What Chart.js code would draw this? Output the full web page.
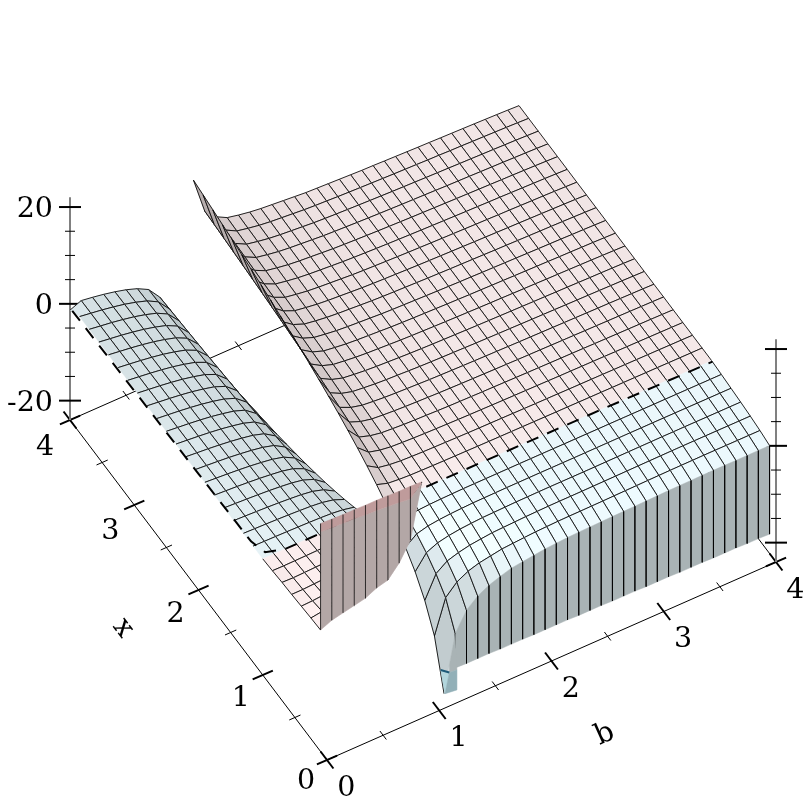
<!DOCTYPE html>
<html>
<head>
<meta charset="utf-8">
<style>
  html, body { margin: 0; padding: 0; background: #fff; }
  canvas { display: block; }
</style>
<script src="https://cdn.jsdelivr.net/npm/chart.js@4"></script>
</head>
<body>
<canvas id="chart" width="812" height="812"></canvas>
<script>
// sample positions of the surface, b = 1.0 is the pole so it has no value
const bValues = [0,0.1,0.2,0.3,0.4,0.5,0.6,0.7,0.8,0.9,1,1.1,1.2,1.3,1.4,1.5,1.6,1.7,1.8,1.9,2,2.1,2.2,2.3,2.4,2.5,2.6,2.7,2.8,2.9,3,3.1,3.2,3.3,3.4,3.5,3.6,3.7,3.8,3.9,4];
const xValues = [0.1,0.25,0.4,0.55,0.7,0.85,1,1.15,1.3,1.45,1.6,1.75,1.9,2.05,2.2,2.35,2.5,2.65,2.8,2.95,3.1,3.25,3.4,3.55,3.7,3.85,4];

// z, one row per x
const zRow01 = [1.1,2.1,2.6,3.1,3.6,4.7,5.3,7.8,11.5,22.3,null,-23.3,-11.9,-8.1,-6.2,-5,-4.2,-3.5,-3.2,-2.9,-2.6,-2.45,-2.3,-2.2,-2.15,-2.1,-2.05,-2,-1.95,-1.9,-1.85,-1.8,-1.77,-1.74,-1.72,-1.7,-1.7,-1.7,-1.7,-1.7,-1.7];
const zRow02 = [0.95,1.28,1.58,1.89,2.2,2.87,3.24,4.76,7,13.6,null,-14,-7.1,-4.9,-3.7,-3,-2.6,-2.2,-2.03,-1.87,-1.73,-1.65,-1.58,-1.54,-1.53,-1.5,-1.48,-1.44,-1.4,-1.37,-1.33,-1.3,-1.27,-1.25,-1.24,-1.22,-1.22,-1.22,-1.22,-1.22,-1.22];
const zRow03 = [0.75,0.84,1.04,1.24,1.44,1.88,2.12,3.12,4.6,8.9,null,-9.3,-4.8,-3.2,-2.5,-2,-1.72,-1.47,-1.38,-1.29,-1.2,-1.15,-1.1,-1.08,-1.08,-1.07,-1.05,-1.03,-1.01,-0.99,-0.96,-0.94,-0.92,-0.9,-0.89,-0.88,-0.88,-0.88,-0.88,-0.88,-0.88];
const zRow04 = [0.55,0.55,0.68,0.8,0.93,1.22,1.38,2.03,3,5.8,null,-6,-3.1,-2.1,-1.61,-1.3,-1.12,-0.97,-0.92,-0.86,-0.8,-0.78,-0.75,-0.74,-0.74,-0.74,-0.74,-0.73,-0.71,-0.69,-0.67,-0.66,-0.65,-0.63,-0.63,-0.62,-0.62,-0.62,-0.62,-0.62,-0.62];
const zRow05 = [0.4,0.33,0.4,0.48,0.56,0.73,0.82,1.21,1.78,3.46,null,-3.6,-1.85,-1.25,-0.96,-0.78,-0.67,-0.58,-0.55,-0.52,-0.49,-0.48,-0.47,-0.46,-0.46,-0.46,-0.46,-0.45,-0.44,-0.43,-0.42,-0.41,-0.41,-0.4,-0.4,-0.4,-0.4,-0.4,-0.4,-0.4,-0.4];
const zRow06 = [0.18,0.15,0.18,0.22,0.26,0.34,0.37,0.56,0.82,1.6,null,-1.66,-0.85,-0.58,-0.44,-0.36,-0.31,-0.26,-0.25,-0.24,-0.23,-0.22,-0.21,-0.21,-0.21,-0.21,-0.21,-0.2,-0.2,-0.2,-0.19,-0.19,-0.19,-0.19,-0.19,-0.18,-0.18,-0.18,-0.18,-0.18,-0.18];
const zRow07 = [0,0,0,0,0,0,0,0,0,0,null,0,0,0,0,0,0,0,0,0,0,0,0,0,0,0,0,0,0,0,0,0,0,0,0,0,0,0,0,0,0];
const zRow08 = [0,-0.04,-0.07,-0.11,-0.16,-0.22,-0.3,-0.43,-0.69,-1.18,null,1.44,0.7,0.48,0.35,0.3,0.26,0.23,0.21,0.19,0.17,0.15,0.14,0.13,0.12,0.11,0.1,0.09,0.09,0.08,0.07,0.07,0.06,0.05,0.05,0.04,0.04,0.03,0.02,0.01,0.01];
const zRow09 = [0,-0.07,-0.13,-0.21,-0.3,-0.42,-0.56,-0.8,-1.28,-2.2,null,2.7,1.31,0.89,0.66,0.56,0.48,0.43,0.39,0.35,0.31,0.29,0.27,0.25,0.23,0.21,0.19,0.18,0.17,0.15,0.14,0.13,0.12,0.1,0.09,0.08,0.07,0.06,0.04,0.03,0.01];
const zRow10 = [0,-0.09,-0.19,-0.3,-0.43,-0.6,-0.8,-1.13,-1.82,-3.11,null,3.83,1.86,1.26,0.93,0.8,0.69,0.61,0.55,0.5,0.45,0.41,0.38,0.35,0.32,0.3,0.28,0.26,0.24,0.21,0.2,0.18,0.17,0.15,0.13,0.11,0.1,0.08,0.06,0.04,0.01];
const zRow11 = [0,-0.12,-0.24,-0.38,-0.54,-0.75,-1.01,-1.43,-2.3,-3.95,null,4.84,2.35,1.6,1.18,1.01,0.87,0.78,0.71,0.63,0.56,0.52,0.48,0.44,0.41,0.38,0.35,0.32,0.3,0.27,0.25,0.23,0.21,0.18,0.16,0.14,0.12,0.1,0.08,0.05,0.01];
const zRow12 = [0,-0.14,-0.28,-0.45,-0.65,-0.9,-1.2,-1.71,-2.74,-4.7,null,5.77,2.8,1.9,1.4,1.2,1.04,0.92,0.84,0.76,0.68,0.62,0.57,0.53,0.49,0.45,0.42,0.38,0.35,0.33,0.3,0.27,0.25,0.22,0.2,0.17,0.15,0.12,0.09,0.06,0.02];
const zRow13 = [0,-0.16,-0.32,-0.51,-0.74,-1.03,-1.38,-1.96,-3.15,-5.39,null,6.61,3.21,2.18,1.61,1.38,1.19,1.06,0.96,0.87,0.77,0.71,0.65,0.6,0.56,0.51,0.48,0.44,0.4,0.37,0.34,0.31,0.28,0.25,0.22,0.19,0.17,0.13,0.1,0.06,0.02];
const zRow14 = [0,-0.18,-0.36,-0.57,-0.83,-1.15,-1.55,-2.19,-3.52,-6.03,null,7.39,3.59,2.44,1.8,1.55,1.33,1.18,1.08,0.97,0.86,0.79,0.73,0.68,0.63,0.57,0.53,0.49,0.46,0.42,0.38,0.35,0.32,0.28,0.25,0.22,0.19,0.15,0.12,0.07,0.02];
const zRow15 = [0,-0.2,-0.39,-0.63,-0.91,-1.26,-1.69,-2.4,-3.86,-6.62,null,8.12,3.94,2.68,1.97,1.69,1.46,1.3,1.18,1.06,0.95,0.87,0.8,0.74,0.69,0.63,0.58,0.54,0.5,0.46,0.42,0.38,0.35,0.31,0.28,0.24,0.2,0.17,0.13,0.08,0.02];
const zRow16 = [0,-0.21,-0.43,-0.68,-0.98,-1.37,-1.84,-2.6,-4.18,-7.18,null,8.8,4.27,2.9,2.13,1.84,1.58,1.4,1.28,1.15,1.03,0.94,0.87,0.8,0.74,0.68,0.63,0.58,0.54,0.5,0.45,0.41,0.38,0.33,0.3,0.26,0.22,0.18,0.13,0.08,0.02];
const zRow17 = [0,-0.23,-0.46,-0.73,-1.05,-1.47,-1.97,-2.79,-4.49,-7.69,null,9.43,4.58,3.11,2.29,1.97,1.69,1.51,1.37,1.24,1.1,1.01,0.93,0.86,0.8,0.73,0.68,0.62,0.58,0.53,0.49,0.44,0.4,0.36,0.32,0.27,0.24,0.19,0.15,0.09,0.03];
const zRow18 = [0,-0.24,-0.49,-0.78,-1.12,-1.56,-2.1,-2.97,-4.78,-8.18,null,10,4.87,3.31,2.44,2.1,1.8,1.61,1.46,1.32,1.17,1.07,1,0.92,0.85,0.78,0.72,0.66,0.62,0.56,0.52,0.47,0.43,0.38,0.34,0.3,0.26,0.2,0.16,0.1,0.03];
const zRow19 = [0,-0.26,-0.52,-0.82,-1.18,-1.65,-2.21,-3.14,-5.05,-8.65,null,10.61,5.15,3.5,2.58,2.21,1.91,1.7,1.55,1.39,1.24,1.13,1.05,0.97,0.9,0.82,0.76,0.7,0.65,0.6,0.55,0.49,0.45,0.4,0.36,0.31,0.27,0.22,0.16,0.1,0.03];
const zRow20 = [0,-0.27,-0.54,-0.86,-1.24,-1.73,-2.33,-3.3,-5.3,-9.09,null,11.15,5.42,3.68,2.7,2.33,2,1.78,1.62,1.46,1.3,1.19,1.1,1.02,0.94,0.86,0.8,0.74,0.68,0.63,0.57,0.52,0.47,0.42,0.38,0.32,0.28,0.22,0.17,0.11,0.03];
const zRow21 = [0,-0.28,-0.57,-0.9,-1.3,-1.81,-2.43,-3.45,-5.54,-9.5,null,11.65,5.66,3.85,2.83,2.43,2.09,1.87,1.7,1.53,1.36,1.24,1.15,1.06,0.98,0.9,0.84,0.77,0.71,0.66,0.6,0.54,0.5,0.44,0.4,0.34,0.29,0.24,0.18,0.11,0.03];
const zRow22 = [0,-0.29,-0.59,-0.94,-1.35,-1.88,-2.53,-3.6,-5.78,-9.9,null,12.14,5.9,4,2.95,2.53,2.18,1.94,1.76,1.59,1.42,1.3,1.2,1.1,1.02,0.94,0.87,0.8,0.74,0.68,0.62,0.56,0.52,0.46,0.42,0.36,0.3,0.24,0.19,0.12,0.04];
const zRow23 = [0,-0.31,-0.61,-0.98,-1.41,-1.96,-2.63,-3.73,-6,-10.3,null,12.61,6.12,4.16,3.06,2.63,2.26,2.02,1.84,1.65,1.47,1.35,1.25,1.15,1.06,0.98,0.91,0.83,0.77,0.71,0.65,0.59,0.54,0.48,0.43,0.37,0.32,0.26,0.2,0.12,0.04];
const zRow24 = [0,-0.32,-0.63,-1.01,-1.46,-2.02,-2.72,-3.86,-6.21,-10.63,null,13.05,6.34,4.31,3.16,2.72,2.34,2.09,1.9,1.71,1.52,1.4,1.3,1.19,1.1,1.01,0.94,0.86,0.8,0.74,0.67,0.6,0.55,0.5,0.44,0.38,0.33,0.26,0.2,0.13,0.04];
const zRow25 = [0,-0.33,-0.65,-1.05,-1.5,-2.09,-2.81,-3.99,-6.41,-10.99,null,13.47,6.54,4.45,3.27,2.81,2.42,2.16,1.96,1.77,1.57,1.44,1.33,1.23,1.14,1.05,0.97,0.89,0.82,0.76,0.69,0.63,0.58,0.51,0.46,0.39,0.34,0.27,0.21,0.13,0.04];
const zRow26 = [0,-0.33,-0.67,-1.08,-1.55,-2.16,-2.9,-4.11,-6.6,-11.32,null,13.89,6.74,4.58,3.37,2.9,2.5,2.22,2.02,1.82,1.62,1.48,1.38,1.26,1.17,1.08,1,0.92,0.85,0.78,0.72,0.64,0.6,0.52,0.48,0.4,0.35,0.28,0.22,0.14,0.04];
const zRow27 = [-1.3,-0.35,-0.7,-1.1,-1.6,-2.2,-3,-4.2,-6.8,-11.6,null,14.3,6.9,4.7,3.5,3,2.6,2.3,2.1,1.9,1.7,1.5,1.4,1.3,1.2,1.1,1,0.95,0.87,0.8,0.73,0.66,0.61,0.54,0.48,0.42,0.36,0.29,0.22,0.14,0.04];

// walls at the x = 0.1 edge
const leftWallTopZ = [23.1,23,22.9,22.9,22.8,22.8,22.7,22.6,22.6,22.5];
const leftWallBandZ = [21.4,21.2,21.1,21,20.8,20.7,20.5,20.3,20,22.3];
const rightWallBottomZ = [-19,-19.1,-19.1,-19.1,-19.2,-19.2,-19.2,-19.3,-19.3,-19.3,-19.3,-19.4,-19.4,-19.4,-19.5,-19.5,-19.5,-19.6,-19.6,-19.6,-19.7,-19.7,-19.7,-19.8,-19.8,-19.8,-19.9,-19.9,-20];
const tipLightB = [1.07,1.147,1.108];
const tipLightZ = [-18.1,-19.4,-23.4];
const tipDarkB = [1.147,1.215,1.215,1.108];
const tipDarkZ = [-19.4,-19.6,-23.7,-23.4];
const tipGreyB = [1.2,1.215,1.147,1.147];
const tipGreyZ = [-11.9,-19.6,-19.4,-17.9];

// z = 0 contour
const contourB = [-0.02,-0.01,0,0.01,0.05,0.2,0.5,0.9,1.5,2,3,4];
const contourX = [3.93,3,2,1.2,1.05,1,1,1,1,1,1,0.99];

// axes
const axisMajor = [0,1,2,3,4];
const axisMinor = [0.5,1.5,2.5,3.5];
const zMajor = [-20,0,20];
const zMinor = [-15,-10,-5,5,10,15];
const zBottom = -24;
const zTop = 22;

const zRows = [zRow01,zRow02,zRow03,zRow04,zRow05,zRow06,zRow07,zRow08,zRow09,zRow10,zRow11,zRow12,zRow13,zRow14,zRow15,zRow16,zRow17,zRow18,zRow19,zRow20,zRow21,zRow22,zRow23,zRow24,zRow25,zRow26,zRow27];

// the oblique view of the plot box
const project = (b, x, z) => ({
  x: 327 + 112.25 * b - 64.25 * x,
  y: 760 - 49.5 * b - 85 * x - 4.84 * (z - zBottom)
});
const view = [-0.317, -0.553, 0.77];
const lightDir = [-0.27, -0.18, 0.94];
const zScale = 0.67 / 46;
const depth = (b, x, z) => view[0] * b / 4 + view[1] * x / 4 + view[2] * z * zScale;

const line = (pts, color, width, dash) => ({
  data: pts, showLine: true, pointRadius: 0, borderColor: color, borderWidth: width,
  borderDash: dash || [], clip: false, tension: 0
});
const polygon = (pts, fillColor) => {
  const ds = line(pts.concat([pts[0]]), 'rgba(0,0,0,0)', 0);
  ds.polyFill = fillColor;
  return ds;
};

// axes go first so the surface covers them
const back = [];
const bTick = (b, x, half, w) => back.push(line([project(b, x - half, zBottom), project(b, x + half, zBottom)], '#000', w));
const xTick = (b, x, half, w) => back.push(line([project(b - half, x, zBottom), project(b + half, x, zBottom)], '#000', w));
back.push(line([project(0, 0, zBottom), project(4, 0, zBottom)], '#000', 1));
back.push(line([project(0, 0, zBottom), project(0, 4, zBottom)], '#000', 1));
back.push(line([project(0, 4, zBottom), project(4, 4, zBottom)], '#000', 1));
back.push(line([project(4, 0, zBottom), project(4, 4, zBottom)], '#000', 1));
axisMajor.forEach(v => {
  bTick(v, 0, 0.1, 2); xTick(0, v, 0.09, 2);
  bTick(v, 4, 0.1, 2); xTick(4, v, 0.09, 2);
});
axisMinor.forEach(v => {
  bTick(v, 0, 0.05, 1); xTick(0, v, 0.05, 1);
  bTick(v, 4, 0.05, 1); xTick(4, v, 0.05, 1);
});
[[0, 4], [4, 0]].forEach(([b, x]) => {
  const p = project(b, x, 0);
  back.push(line([project(b, x, zBottom), project(b, x, zTop)], '#808080', 2));
  zMajor.forEach(z => {
    const y = project(b, x, z).y;
    back.push(line([{x: p.x - 11, y}, {x: p.x + 11, y}], '#000', 2));
  });
  zMinor.forEach(z => {
    const y = project(b, x, z).y;
    back.push(line([{x: p.x - 5, y}, {x: p.x + 5, y}], '#000', 1));
  });
});

// surface cells, far ones first
const edgeColor = 'rgba(0,0,0,0.85)';
const cells = [];
for (let i = 0; i < xValues.length - 1; i++) {
  for (let j = 0; j < bValues.length - 1; j++) {
    const z00 = zRows[i][j], z01 = zRows[i][j + 1], z10 = zRows[i + 1][j], z11 = zRows[i + 1][j + 1];
    if (z00 === null || z01 === null) continue;
    const x0 = xValues[i], x1 = xValues[i + 1], b0 = bValues[j], b1 = bValues[j + 1];
    const db = b1 - b0, dx = x1 - x0;
    const avg = (z00 + z01 + z10 + z11) / 4;
    const slopeB = (z01 + z11 - z00 - z10) / 2 / db * 4 * zScale;
    const slopeX = (z10 + z11 - z00 - z01) / 2 / dx * 4 * zScale;
    const d = Math.abs(-slopeB * lightDir[0] - slopeX * lightDir[1] + lightDir[2]) / Math.hypot(slopeB, slopeX, 1);
    const light = 0.7 + 0.2 * d + 0.12 * Math.max(0, (d - 0.88) / 0.12);
    let base = avg > 0 ? [258, 245, 245] : [244, 257, 261];
    if (avg > 0 && b1 < 1) base = [270, 255, 255];
    const rgb = base.map(c => Math.min(255, Math.round(c * light)));
    const p00 = project(b0, x0, z00), p01 = project(b1, x0, z01), p11 = project(b1, x1, z11), p10 = project(b0, x1, z10);
    const list = [polygon([p00, p01, p11, p10], `rgb(${rgb.join(',')})`)];
    // the cut along the contour and the wall edge carry no grid line
    if (x0 !== 1 && x0 !== 0.1) list.push(line([p00, p01], edgeColor, 1));
    if (x1 !== 1) list.push(line([p10, p11], edgeColor, 1));
    if (!(b0 === 0 && x0 >= 1)) list.push(line([p00, p10], edgeColor, 1));
    list.push(line([p01, p11], edgeColor, 1));
    cells.push({ d: depth(b0 + db / 2, x0 + dx / 2, avg), list });
  }
}
cells.sort((a, b) => a.d - b.d);
const cellSets = [];
cells.forEach(c => cellSets.push(...c.list));

const front = [];
front.push(line(contourB.map((b, i) => project(b, contourX[i], 0)), '#000', 2, [12.5, 9.5]));

// brown wall left of the pole
for (let j = 0; j < 9; j++) {
  const b0 = bValues[j], b1 = bValues[j + 1], x0 = xValues[0];
  front.push(polygon([project(b0, x0, zRow01[j]), project(b1, x0, zRow01[j + 1]), project(b1, x0, leftWallBandZ[j + 1]), project(b0, x0, leftWallBandZ[j])], '#b3a7a6'));
  front.push(polygon([project(b0, x0, leftWallBandZ[j]), project(b1, x0, leftWallBandZ[j + 1]), project(b1, x0, leftWallTopZ[j + 1]), project(b0, x0, leftWallTopZ[j])], '#bf9b9b'));
}
for (let j = 0; j < 10; j++) {
  front.push(line([project(bValues[j], xValues[0], zRow01[j]), project(bValues[j], xValues[0], leftWallTopZ[j])], 'rgba(0,0,0,0.75)', 1));
}

// grey wall right of the pole
for (let k = 0; k < rightWallBottomZ.length; k++) {
  const j = k + 12, x0 = xValues[0];
  if (k < rightWallBottomZ.length - 1) {
    front.push(polygon([project(bValues[j], x0, zRow01[j]), project(bValues[j + 1], x0, zRow01[j + 1]), project(bValues[j + 1], x0, rightWallBottomZ[k + 1]), project(bValues[j], x0, rightWallBottomZ[k])], '#a9b3b5'));
  }
  front.push(line([project(bValues[j], x0, zRow01[j]), project(bValues[j], x0, rightWallBottomZ[k])], 'rgba(0,0,0,0.75)', 1));
}

// small pieces at the tip, the lower ones are below the -20 level
front.push(polygon(tipGreyB.map((b, i) => project(b, xValues[0], tipGreyZ[i])), '#a9b3b5'));
front.push(polygon(tipLightB.map((b, i) => project(b, xValues[0], tipLightZ[i])), '#b2d6dd'));
front.push(polygon(tipDarkB.map((b, i) => project(b, xValues[0], tipDarkZ[i])), '#92b0b8'));
front.push(line(tipLightB.slice(0, 2).map((b, i) => project(b, xValues[0], tipLightZ[i])), '#1d5a78', 2));

// painting order: the library draws the first dataset last
const datasets = back.concat(cellSets, front).reverse();

const polyFillPlugin = {
  id: 'polyFill',
  beforeDatasetDraw(chart, args) {
    const ds = chart.data.datasets[args.index];
    if (!ds.polyFill) return;
    const ctx = chart.ctx;
    ctx.save();
    ctx.beginPath();
    args.meta.data.forEach((p, i) => i ? ctx.lineTo(p.x, p.y) : ctx.moveTo(p.x, p.y));
    ctx.closePath();
    ctx.fillStyle = ds.polyFill;
    ctx.fill();
    // a hairline hides the seams between the filled pieces
    ctx.strokeStyle = ds.polyFill;
    ctx.lineWidth = 0.5;
    ctx.stroke();
    ctx.restore();
  }
};

const axisTextPlugin = {
  id: 'axisText',
  afterDraw(chart) {
    const ctx = chart.ctx;
    const sx = chart.scales.x, sy = chart.scales.y;
    const text = (s, p, dx, dy, angle, align) => {
      ctx.save();
      ctx.translate(sx.getPixelForValue(p.x) + dx, sy.getPixelForValue(p.y) + dy);
      ctx.rotate(angle || 0);
      ctx.textAlign = align || 'center';
      ctx.fillText(s, 0, 0);
      ctx.restore();
    };
    ctx.save();
    ctx.fillStyle = '#000';
    ctx.font = '28.5px "DejaVu Serif"';
    ctx.textBaseline = 'middle';
    zMajor.forEach(z => text(String(z), project(0, 4, z), -17, 3, 0, 'right'));
    axisMajor.forEach(v => {
      text(String(v), project(v, -0.3, zBottom), 0, 3);
      text(String(v), project(0, v, zBottom), -21 - v, 21.5 + 1.6 * v);
    });
    text('b', project(2, -0.83, zBottom), 0, 3, -0.42);
    text('x', project(-0.69, 2, zBottom), 2, 4, 0.92);
    ctx.restore();
  }
};

new Chart(document.getElementById('chart').getContext('2d'), {
  type: 'scatter',
  data: { datasets },
  options: {
    responsive: false,
    animation: false,
    events: [],
    layout: { padding: 0 },
    plugins: { legend: { display: false }, tooltip: { enabled: false } },
    scales: {
      x: { type: 'linear', min: 0, max: 812, display: false },
      y: { type: 'linear', min: 0, max: 812, reverse: true, display: false }
    }
  },
  plugins: [polyFillPlugin, axisTextPlugin]
});
</script>
</body>
</html>
